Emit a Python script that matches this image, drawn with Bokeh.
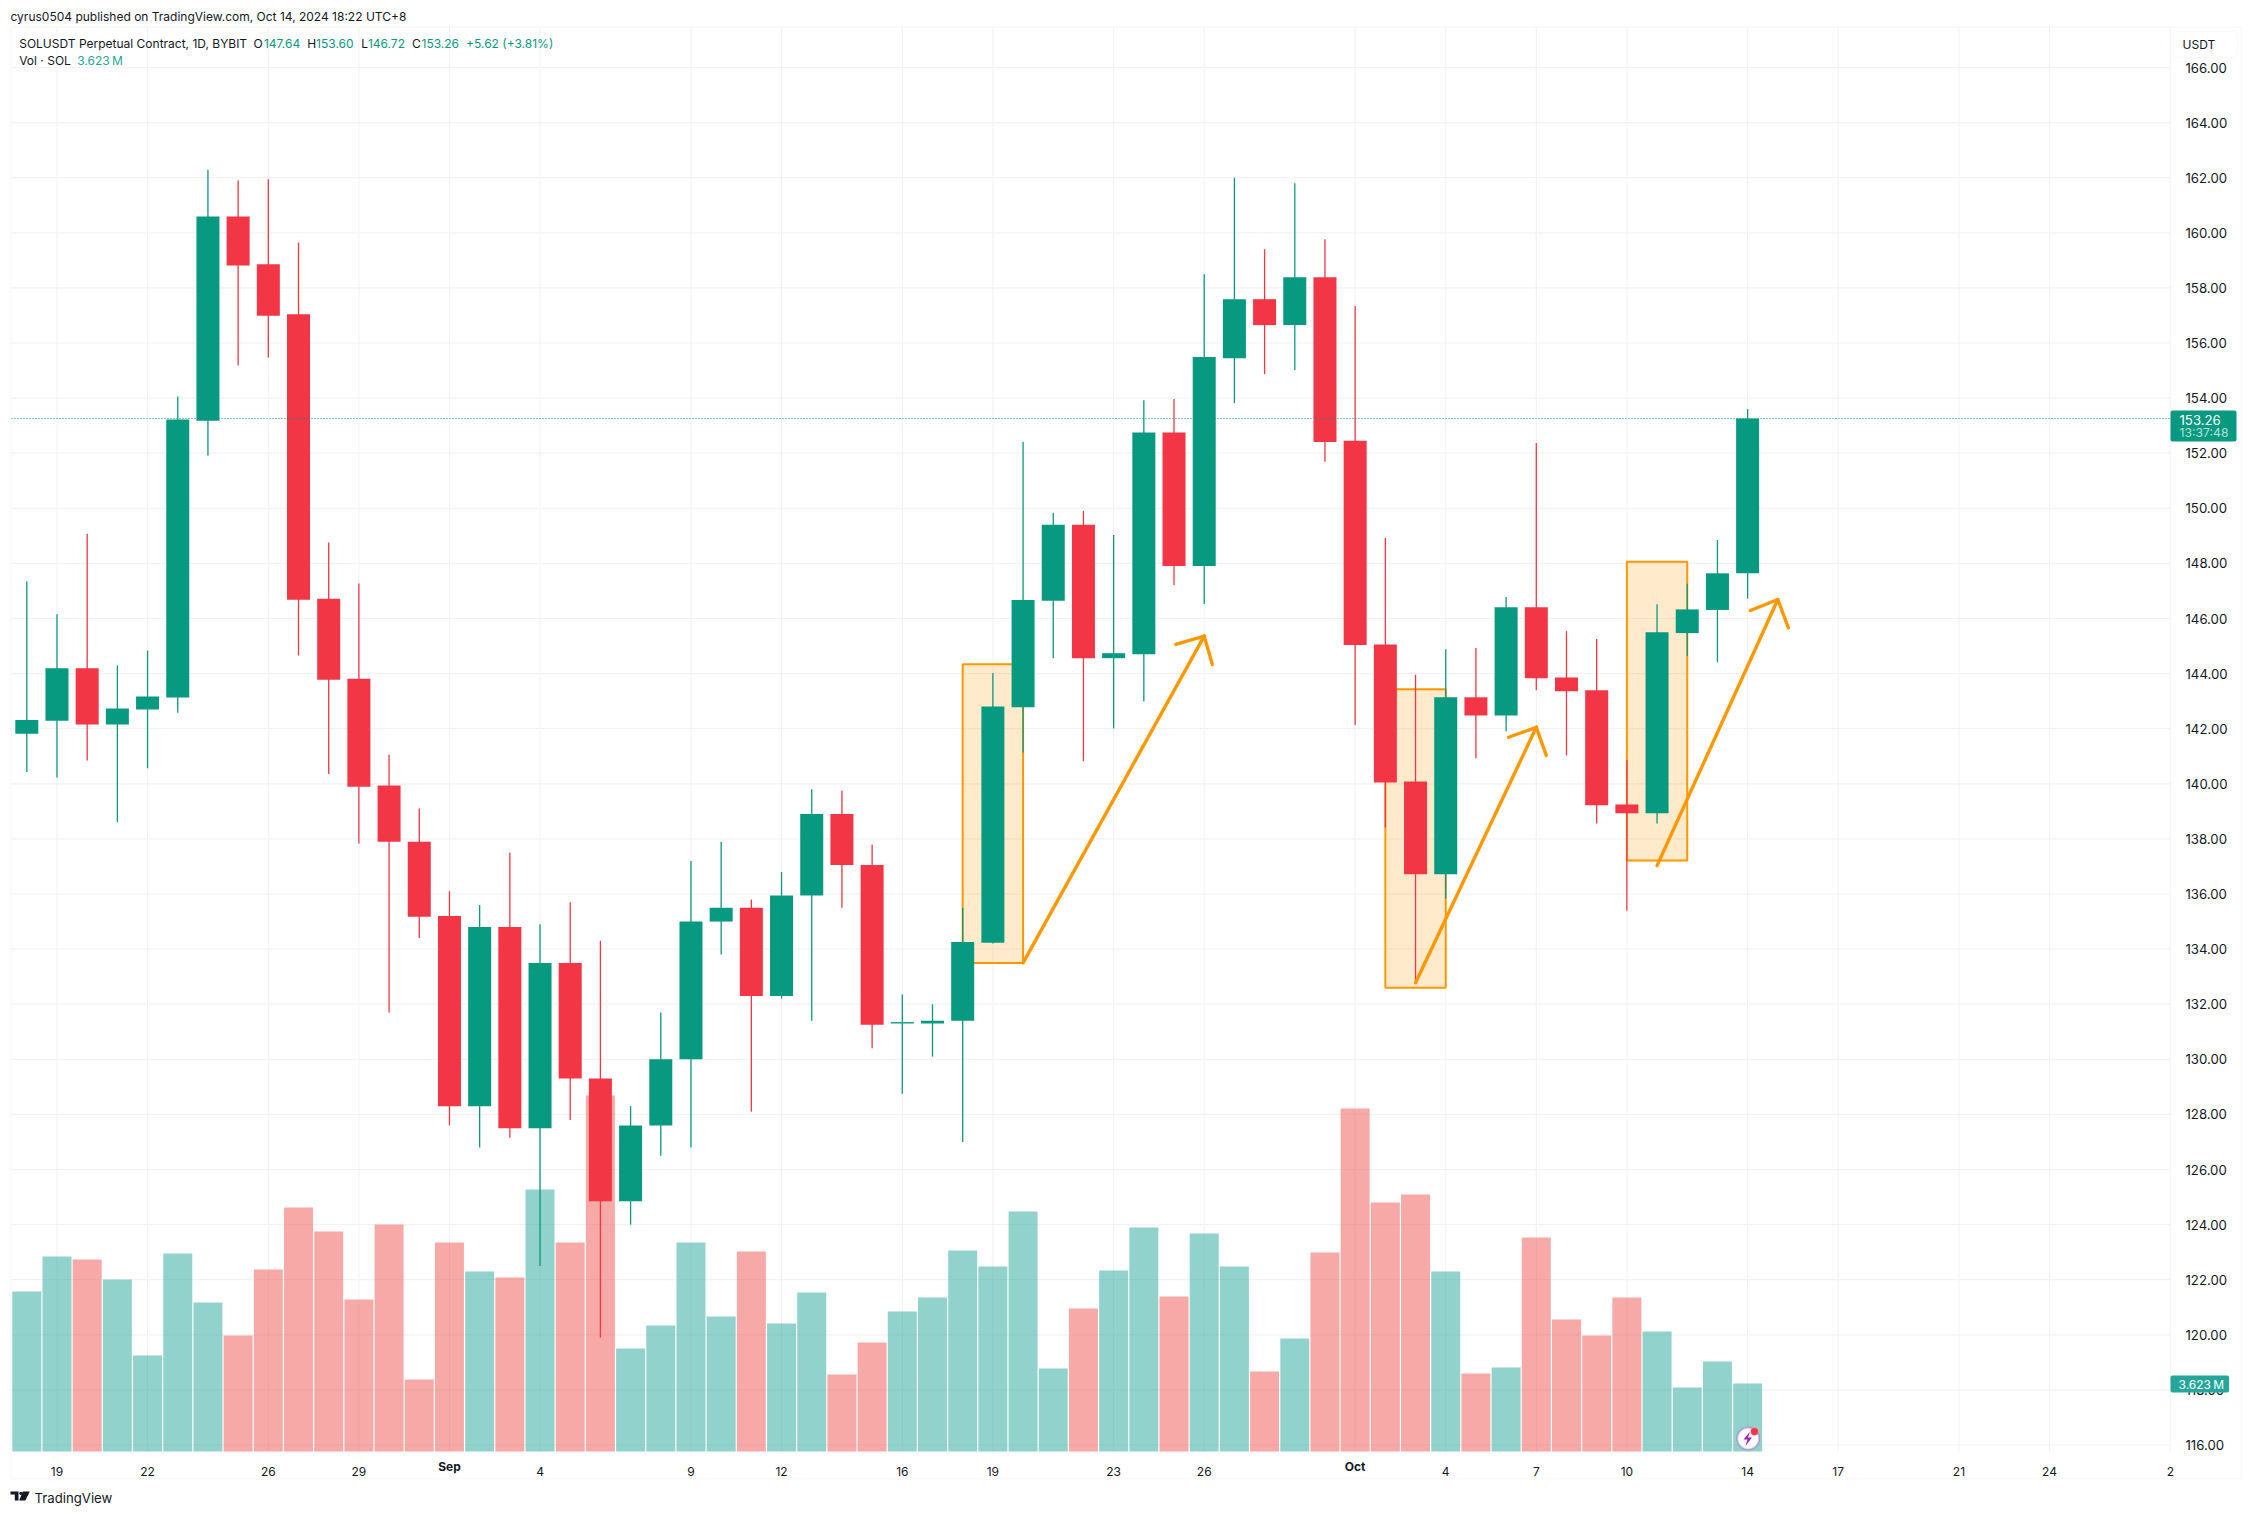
from bokeh.plotting import figure
from bokeh.models import (ColumnDataSource, Range1d, LinearAxis, FixedTicker, Label,
                          BoxAnnotation, PolyAnnotation)
from bokeh.embed import file_html
from bokeh.resources import INLINE

# ---------- data (index 0 = 18 Aug 2024, one bar per day) ----------
opens = [141.82,142.29,144.19,142.15,142.70,143.13,153.18,160.59,158.86,157.04,146.72,143.81,139.94,
         137.90,135.20,128.30,134.80,127.50,133.50,129.30,124.85,127.60,130.00,135.00,135.50,132.30,
         135.95,138.90,137.05,131.30,131.30,131.40,134.23,142.78,146.64,149.40,144.56,144.70,152.75,
         147.91,155.45,157.59,156.65,158.39,152.45,145.06,140.08,136.72,143.14,142.48,146.41,143.86,
         143.40,139.25,138.93,145.47,146.31,147.64]
closes = [142.32,144.19,142.15,142.73,143.17,153.22,160.59,158.81,156.99,146.68,143.78,139.89,137.90,
          135.17,128.30,134.80,127.50,133.50,129.30,124.85,127.60,130.00,135.00,135.50,132.30,135.95,
          138.90,137.05,131.25,131.35,131.40,134.26,142.81,146.67,149.40,144.56,144.74,152.75,147.91,
          155.49,157.59,156.65,158.39,152.41,145.04,140.05,136.72,143.14,142.48,146.41,143.83,143.36,
          139.22,138.93,145.50,146.33,147.64,153.26]
highs = [147.35,146.15,149.08,144.29,144.84,154.06,162.29,161.90,161.94,159.65,148.76,147.27,141.06,
         139.10,136.10,135.60,137.50,134.90,135.70,134.30,128.30,131.70,137.20,137.90,135.80,136.80,
         139.80,139.75,137.80,132.35,132.00,135.50,144.02,152.42,149.84,149.91,149.03,153.92,153.97,
         158.50,162.00,159.40,161.80,159.77,157.34,148.92,143.96,144.88,144.93,146.78,152.37,145.54,
         145.26,140.86,146.52,147.26,148.85,153.60]
lows = [140.43,140.23,140.85,138.60,140.56,142.58,151.92,155.18,155.47,144.66,140.36,137.83,131.70,
        134.40,127.60,126.80,127.15,122.50,127.80,119.90,124.00,126.50,126.80,133.80,128.10,132.20,
        131.40,135.50,130.40,128.75,130.10,127.00,134.20,141.14,144.56,140.82,142.01,142.99,147.22,
        146.53,153.82,154.87,155.02,151.69,142.13,138.41,132.75,135.84,140.93,141.91,143.40,141.03,
        138.56,135.39,138.56,144.64,144.41,146.72]
volumes = [8.52,10.39,10.23,9.16,5.11,10.55,7.94,6.18,9.70,13.00,11.72,8.10,12.09,3.84,11.13,9.59,9.27,
           13.96,11.13,18.97,5.49,6.71,11.13,7.19,10.66,6.82,8.47,4.10,5.81,7.46,8.20,10.71,9.86,12.79,
           4.42,7.62,9.64,11.93,8.26,11.61,9.86,4.26,6.02,10.60,18.27,13.27,13.69,9.59,4.16,4.48,11.40,
           7.03,6.18,8.20,6.39,3.41,4.79,3.623]
x_tick_pos = [1,4,8,11,14,17,22,25,29,32,36,39,44,47,50,53,57,60,64,67,71]
x_tick_labels = ["19","22","26","29","Sep","4","9","12","16","19","23","26","Oct","4","7","10","14","17","21","24","2"]
y_ticks = list(range(116,168,2))
last_price = 153.26

# drawings: rectangles (left index, right index, top, bottom)
rect_l = [31,45,53]; rect_r = [33,47,55]; rect_t = [144.34,143.43,148.06]; rect_b = [133.50,132.60,137.22]
# arrows: start, tip, and the two head barbs
arrow_x0 = [33,46,54]; arrow_y0 = [133.50,132.78,137.03]
arrow_x1 = [39,50,58]; arrow_y1 = [145.36,142.05,146.69]
barb1_x = [38.06,49.08,57.09]; barb1_y = [145.06,141.69,146.29]
barb2_x = [39.27,50.33,58.35]; barb2_y = [144.33,141.03,145.66]

GREEN, RED = "#089981", "#f23645"
VGREEN, VRED = "#26a69a", "#ef5350"
ORANGE = "#ff9800"
INK = "#131722"
FONT = "Inter"
BORDER = "#f0f0f6"

# pixel calibration of the page
W, H = 2246, 1510
PX0, PXD = 26.3, 30.19        # x pixel of bar 0, pixels per bar
PY166, PYU = 67.0, 27.55      # y pixel of 166.00, pixels per price unit
VPX0, VPU = 1451.0, 18.77     # y pixel of zero volume, pixels per million
PANE_L = (11 - PX0) / PXD
PANE_R = (2170 - PX0) / PXD
PANE_T = 166 - (27 - PY166) / PYU
PANE_B = 166 - (1451 - PY166) / PYU

idx = list(range(len(opens)))
up = [c >= o for o, c in zip(opens, closes)]
src = ColumnDataSource(dict(
    x=idx, top=[max(o, c) for o, c in zip(opens, closes)], bottom=[min(o, c) for o, c in zip(opens, closes)],
    high=highs, low=lows, vol=volumes,
    color=[GREEN if u else RED for u in up],
    vcolor=[VGREEN if u else VRED for u in up]))

p = figure(width=W, height=H, min_border=0,
           x_range=Range1d((0 - PX0) / PXD, (W - PX0) / PXD),
           y_range=Range1d(166 - (H - PY166) / PYU, 166 + PY166 / PYU),
           output_backend="svg", toolbar_location=None, background_fill_color="white",
           border_fill_color="white", outline_line_color=None, x_axis_location=None, y_axis_location=None)
p.extra_y_ranges = {"vol": Range1d((VPX0 - H) / VPU, VPX0 / VPU)}
p.center = []

# grid lines, limited to the chart pane
p.segment(x_tick_pos, [PANE_B] * len(x_tick_pos), x_tick_pos, [PANE_T] * len(x_tick_pos),
          color="#f0f1f4", line_width=1)
p.segment([PANE_L] * len(y_ticks), y_ticks, [PANE_R] * len(y_ticks), y_ticks, color="#f2f2f5", line_width=1.2)

xaxis = LinearAxis(ticker=FixedTicker(ticks=x_tick_pos), fixed_location=PANE_B,
                   major_label_overrides={t: ("" if l in ("Sep", "Oct") else l) for t, l in zip(x_tick_pos, x_tick_labels)},
                   axis_line_color=None, major_tick_line_color=None, minor_tick_line_color=None,
                   major_label_text_font=FONT, major_label_text_font_size="12px",
                   major_label_text_color=INK, major_label_standoff=9)
yaxis = LinearAxis(ticker=FixedTicker(ticks=y_ticks), fixed_location=PANE_R,
                   major_label_overrides={t: f"{t}.00" for t in y_ticks},
                   axis_line_color=None, major_tick_line_color=None, minor_tick_line_color=None,
                   major_label_text_font=FONT, major_label_text_font_size="13.2px",
                   major_label_text_color=INK, major_label_standoff=9)
p.add_layout(xaxis, "below")
p.add_layout(yaxis, "right")

# volume pane
p.vbar(x="x", top="vol", bottom=0, width=0.96, source=src, fill_color="vcolor", fill_alpha=0.5,
       line_color=None, y_range_name="vol")

# rectangles under the candles
p.quad(left=rect_l, right=rect_r, top=rect_t, bottom=rect_b, fill_color=ORANGE, fill_alpha=0.2,
       line_color=ORANGE, line_width=2)

# candles
p.segment(x0="x", x1="x", y0="low", y1="high", color="color", line_width=1.3, source=src)
p.vbar(x="x", top="top", bottom="bottom", width=0.762, fill_color="color", line_color=None, source=src)

# arrows on top
p.segment(arrow_x0, arrow_y0, arrow_x1, arrow_y1, color=ORANGE, line_width=3.4, line_cap="round")
p.segment(barb1_x, barb1_y, arrow_x1, arrow_y1, color=ORANGE, line_width=3.4, line_cap="round")
p.segment(barb2_x, barb2_y, arrow_x1, arrow_y1, color=ORANGE, line_width=3.4, line_cap="round")

# last price line
p.line([PANE_L, PANE_R], [last_price, last_price], line_color=GREEN, line_dash="1 2", line_width=1)


def txt(x, y, text, color=INK, size=12, style="normal", align="left", font=FONT, xu="canvas"):
    p.add_layout(Label(x=x, y=y, x_units=xu, y_units="canvas", text=text, text_color=color,
                       text_font=font, text_font_size=f"{size}px", text_font_style=style,
                       text_baseline="middle", text_align=align))


def box(l, r, t, b, fill, line=None, width=1, radius=0, alpha=1.0):
    p.add_layout(BoxAnnotation(left=l, right=r, top=t, bottom=b,
                               left_units="canvas", right_units="canvas", top_units="canvas", bottom_units="canvas",
                               fill_color=fill, fill_alpha=alpha, line_color=line, line_width=width,
                               border_radius=radius, level="annotation", editable=False))


def poly(xs, ys, color):
    p.add_layout(PolyAnnotation(xs=xs, ys=ys, xs_units="canvas", ys_units="canvas",
                                fill_color=color, fill_alpha=1, line_color=None, level="annotation"))


# outer frame
box(10.5, 2241, 26.5, 1478, None, BORDER, 2)

# header and legend
txt(10, 16, "cyrus0504 published on TradingView.com, Oct 14, 2024 18:22 UTC+8")
txt(18.7, 43, "SOLUSDT Perpetual Contract, 1D, BYBIT")
for lx, ltxt, vx, vtxt in [(253, "O", 263.4, "147.64"), (306.7, "H", 315.6, "153.60"),
                           (360.7, "L", 367.4, "146.72"), (411.6, "C", 421, "153.26")]:
    txt(lx, 43, ltxt)
    txt(vx, 43, vtxt, GREEN)
txt(465.6, 43, "+5.62 (+3.81%)", GREEN)
txt(18.7, 60, "Vol · SOL")
txt(76.8, 60, "3.623\u2009M", VGREEN)

# bold month labels on the time axis
for t, l in zip(x_tick_pos, x_tick_labels):
    if l in ("Sep", "Oct"):
        txt(t, 1466, l, INK, 12, "bold", "center", xu="data")

# currency button
box(2172.7, 2237, 31, 57, "white", BORDER, 1.5, radius=4)
txt(2182, 44, "USDT")

# last price tag
box(2170, 2236, 410, 441, GREEN, radius=2)
txt(2179, 419, f"{last_price:.2f}", "white", 13.2)
txt(2179, 432, "13:37:48", "#b5e0d9", 12.2)

# volume tag
box(2170, 2228.6, 1375, 1392, VGREEN, radius=2)
txt(2178, 1383.5, "3.623\u2009M", "white", 12)

# lightning marker
box(1736.7, 1758.7, 1427, 1449, "white", "#9c27b0", 2, radius=11)
poly([1749.5, 1743, 1747, 1745, 1751.5, 1747.5], [1431, 1439, 1439, 1445.5, 1437, 1437], "#9c27b0")
box(1750, 1758, 1427, 1435, RED, "white", 1, radius=4)

# TradingView logo and wordmark
poly([10, 18, 18, 14.3, 14.3, 10], [1491, 1491, 1500, 1500, 1494, 1494], "#131722")
box(18.8, 22, 1491.2, 1494.4, "#131722", radius=2)
poly([22.3, 29.3, 24.8, 18.6], [1491, 1491, 1500, 1500], "#131722")
txt(34, 1497.5, "TradingView", INK, 13.2)

open("out.html", "w").write(file_html(p, INLINE))
